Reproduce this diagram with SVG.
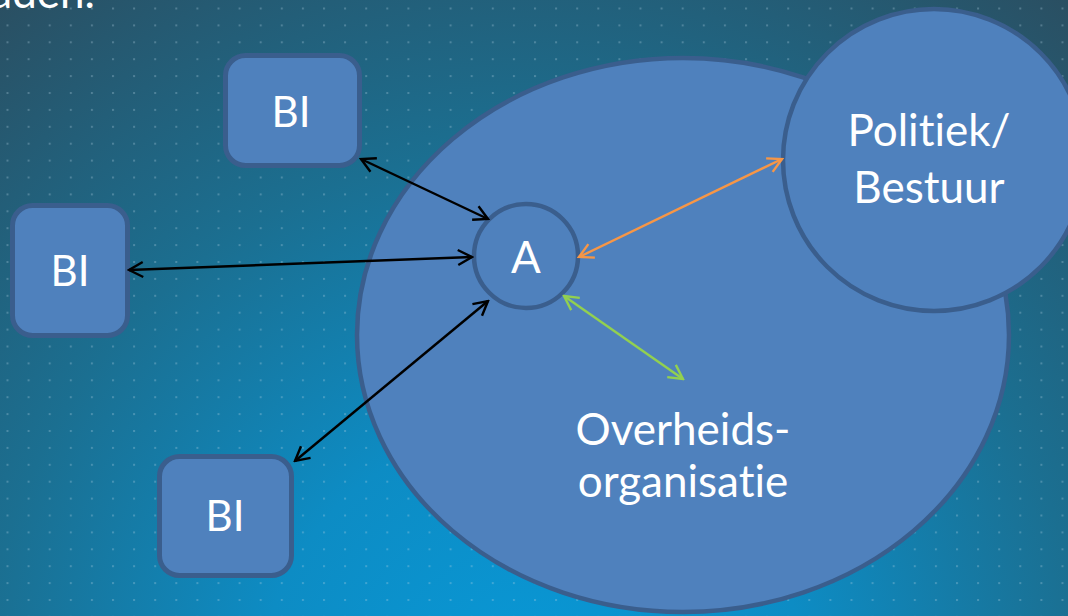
<svg xmlns="http://www.w3.org/2000/svg" width="1068" height="616" viewBox="0 0 1068 616">
  <defs>
    <radialGradient id="bg" cx="534" cy="700" r="920" gradientUnits="userSpaceOnUse">
      <stop offset="0" stop-color="#0899d8"/>
      <stop offset="0.3" stop-color="#0d8cc4"/>
      <stop offset="0.6" stop-color="#1b6f91"/>
      <stop offset="1" stop-color="#2c4b5c"/>
    </radialGradient>
    <pattern id="dots" x="6.5" y="7.5" width="21.1" height="16.9" patternUnits="userSpaceOnUse">
      <rect x="0" y="0" width="2" height="2" fill="#b8d4e6" fill-opacity="0.3"/>
    </pattern>
    <marker id="ab" viewBox="-17 -10 19 20" refX="0" refY="0" markerWidth="19" markerHeight="20" markerUnits="userSpaceOnUse" orient="auto-start-reverse">
      <path d="M -14,-7.5 L 0,0 L -14,7.5" fill="none" stroke="#000" stroke-width="2.4"/>
    </marker>
    <marker id="ao" viewBox="-17 -10 19 20" refX="0" refY="0" markerWidth="19" markerHeight="20" markerUnits="userSpaceOnUse" orient="auto-start-reverse">
      <path d="M -14,-7.5 L 0,0 L -14,7.5" fill="none" stroke="#f79646" stroke-width="2.4"/>
    </marker>
    <marker id="ag" viewBox="-17 -10 19 20" refX="0" refY="0" markerWidth="19" markerHeight="20" markerUnits="userSpaceOnUse" orient="auto-start-reverse">
      <path d="M -14,-7.5 L 0,0 L -14,7.5" fill="none" stroke="#92d050" stroke-width="2.4"/>
    </marker>
  </defs>
  <style>
    .shape { fill: #4f81bd; stroke: #3a5e8d; stroke-width: 4.5; }
    .box { fill: #4f81bd; stroke: #3a5e8d; stroke-width: 5; }
    .lbl { font-family: Lato, "Open Sans", sans-serif; fill: #ffffff; font-size: 44px; text-anchor: middle; font-variant-ligatures: none; font-feature-settings: "liga" 0; }
    .conn { fill: none; stroke-width: 2.4; }
  </style>

  <rect x="0" y="0" width="1068" height="616" fill="url(#bg)"/>
  <rect x="0" y="0" width="1068" height="616" fill="url(#dots)"/>

  <text x="95" y="8" class="lbl" style="text-anchor:end">aden.</text>

  <g id="overheidsorganisatie">
    <ellipse cx="683" cy="335" rx="326" ry="277" class="shape"/>
    <text class="lbl" x="683" y="445">Overheids-</text>
    <text class="lbl" x="683" y="497">organisatie</text>
  </g>

  <g id="politiek">
    <circle cx="934" cy="160" r="151" class="shape"/>
    <text class="lbl" x="929" y="146">Politiek/</text>
    <text class="lbl" x="929" y="203">Bestuur</text>
  </g>

  <g id="a">
    <circle cx="526" cy="256" r="52" class="shape"/>
    <text class="lbl" x="526" y="273">A</text>
  </g>

  <g id="bi-top">
    <rect x="225.5" y="55.5" width="134" height="110" rx="20" class="box"/>
    <text class="lbl" x="291" y="127" style="font-size:42px">BI</text>
  </g>

  <g id="bi-left">
    <rect x="12.5" y="205.5" width="115" height="130" rx="20" class="box"/>
    <text class="lbl" x="70" y="286" style="font-size:42px">BI</text>
  </g>

  <g id="bi-bottom">
    <rect x="159.5" y="456.5" width="132" height="119" rx="20" class="box"/>
    <text class="lbl" x="225" y="531" style="font-size:42px">BI</text>
  </g>

  <g id="connectors">
    <line x1="361" y1="159" x2="488" y2="219" class="conn" stroke="#000" marker-start="url(#ab)" marker-end="url(#ab)"/>
    <line x1="129" y1="270" x2="472" y2="257" class="conn" stroke="#000" marker-start="url(#ab)" marker-end="url(#ab)"/>
    <line x1="295" y1="461" x2="488" y2="301" class="conn" stroke="#000" marker-start="url(#ab)" marker-end="url(#ab)"/>
    <line x1="579" y1="257" x2="782" y2="159" class="conn" stroke="#f79646" marker-start="url(#ao)" marker-end="url(#ao)"/>
    <line x1="564" y1="296" x2="683" y2="379" class="conn" stroke="#92d050" marker-start="url(#ag)" marker-end="url(#ag)"/>
  </g>
</svg>
